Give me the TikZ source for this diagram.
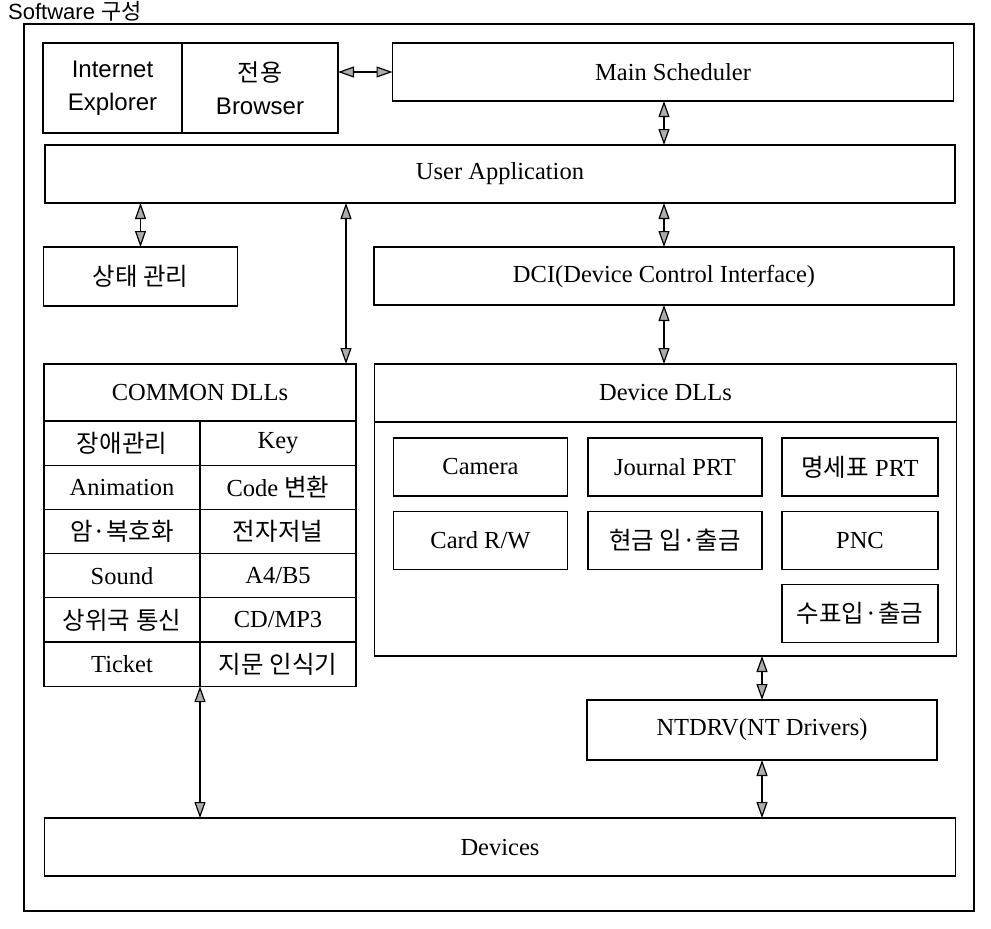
\documentclass[tikz,border=0pt]{standalone}
\usepackage{fontspec}
\setmainfont{Liberation Serif}
\setsansfont{Liberation Sans}
\newfontfamily\krfont{Noto Sans CJK KR}
\newcommand{\krtxt}[1]{{\krfont #1}}
\usetikzlibrary{arrows.meta,positioning}

\begin{document}
\begin{tikzpicture}[x=1pt,y=-1pt,
    box/.style={draw,line width=1.3pt,inner sep=0pt,outer sep=0pt,align=center,
                font=\fontsize{24.5}{30}\selectfont},
    sbox/.style={box,font=\sffamily\fontsize{24}{33}\selectfont},
    cell/.style={box,minimum width=156pt,minimum height=44.2pt},
    devbox/.style={box,minimum width=174pt,minimum height=58pt},
    dbl/.style={{Triangle[length=16pt,width=11pt,fill=gray!65]}-{Triangle[length=16pt,width=11pt,fill=gray!65]},
                line width=1.2pt}]
    \useasboundingbox (0,0) rectangle (991,929);
    \node[anchor=base west,inner sep=0pt,font=\sffamily\fontsize{22}{26}\selectfont] (title) at (8,19) {Software \krtxt{구성}};
    \draw[line width=2.8pt] (24,24) rectangle (974,911);
    % upper layers
    \node[sbox,minimum width=139pt,minimum height=90pt] (ie)   at (112.5,88)       {Internet\\Explorer};
    \node[sbox,minimum width=156pt,minimum height=90pt] (brw)  [right=0pt of ie]   {\krtxt{전용}\\Browser};
    \node[box,minimum width=561pt,minimum height=58pt]  (ms)   at (673,72)         {Main Scheduler};
    \node[box,minimum width=910pt,minimum height=58pt]  (ua)   at (500,174)        {User Application};
    \node[box,minimum width=194pt,minimum height=59pt]  (st)   at (140.5,276.5)    {\krtxt{상태 관리}};
    \node[box,minimum width=580pt,minimum height=58pt]  (dci)  at (664,276)        {DCI(Device Control Interface)};
    % common DLLs
    \node[box,minimum width=312pt,minimum height=57pt]  (cmhd) at (200,392.5)      {COMMON DLLs};
    \node[cell] (c1l) [below right=0pt of cmhd.south west] {\krtxt{장애관리}};
    \node[cell] (c1r) [right=0pt of c1l]                   {Key};
    \node[cell] (c2l) [below=0pt of c1l]                   {Animation};
    \node[cell] (c2r) [right=0pt of c2l]                   {Code \krtxt{변환}};
    \node[cell] (c3l) [below=0pt of c2l]                   {\krtxt{암·복호화}};
    \node[cell] (c3r) [right=0pt of c3l]                   {\krtxt{전자저널}};
    \node[cell] (c4l) [below=0pt of c3l]                   {Sound};
    \node[cell] (c4r) [right=0pt of c4l]                   {A4/B5};
    \node[cell] (c5l) [below=0pt of c4l]                   {\krtxt{상위국 통신}};
    \node[cell] (c5r) [right=0pt of c5l]                   {CD/MP3};
    \node[cell] (c6l) [below=0pt of c5l]                   {Ticket};
    \node[cell] (c6r) [right=0pt of c6l]                   {\krtxt{지문 인식기}};
    % device DLLs
    \node[box,minimum width=582pt,minimum height=58pt]  (ddlhd) at (665.5,393)     {Device DLLs};
    \node[box,minimum width=582pt,minimum height=234pt] (ddl)   [below=0pt of ddlhd] {};
    \node[devbox]                      (cam)  at (480.5,467)          {Camera};
    \node[devbox]                      (jrn)  [right=20.5pt of cam]   {Journal PRT};
    \node[devbox,minimum width=156pt]  (stmt) [right=20pt of jrn]     {\krtxt{명세표} PRT};
    \node[devbox]                      (card) [below=15.3pt of cam]   {Card R/W};
    \node[devbox]                      (cash) [below=15.3pt of jrn]   {\krtxt{현금 입·출금}};
    \node[devbox,minimum width=156pt]  (pnc)  [below=15.3pt of stmt]  {PNC};
    \node[devbox,minimum width=156pt]  (chk)  [below=15.3pt of pnc]   {\krtxt{수표입·출금}};
    % lower layers
    \node[box,minimum width=350pt,minimum height=60pt]  (nt)   at (762,730)        {NTDRV(NT Drivers)};
    \node[box,minimum width=911pt,minimum height=58pt]  (devs) at (500,847)        {Devices};
    % connections
    \coordinate (cmin) at ([xshift=-10pt]cmhd.north east);
    \draw[dbl] (brw.east |- ms.west)  -- (ms.west);
    \draw[dbl] (ms.south -| dci.north) -- (ua.north -| dci.north);
    \draw[dbl] (ua.south -| st.north)  -- (st.north);
    \draw[dbl] (ua.south -| cmin)      -- (cmin);
    \draw[dbl] (ua.south -| dci.north) -- (dci.north);
    \draw[dbl] (dci.south)             -- (dci.south |- ddlhd.north);
    \draw[dbl] (ddl.south -| nt.north) -- (nt.north);
    \draw[dbl] (nt.south)              -- (nt.south |- devs.north);
    \draw[dbl] (c6l.south east)        -- (c6l.south east |- devs.north);
\end{tikzpicture}
\end{document}
